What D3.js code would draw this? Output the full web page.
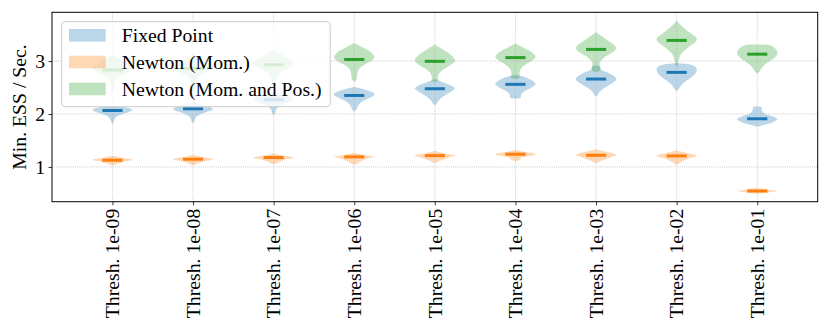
<!DOCTYPE html>
<html><head><meta charset="utf-8">
<script src="https://cdn.jsdelivr.net/npm/d3@7"></script>
<style>body{margin:0;background:#fff} svg{display:block}</style>
</head><body><svg id="chart" width="830" height="332"></svg>
<script>
// ---------- data ----------
const categories = ["Thresh. 1e-09","Thresh. 1e-08","Thresh. 1e-07","Thresh. 1e-06","Thresh. 1e-05",
                    "Thresh. 1e-04","Thresh. 1e-03","Thresh. 1e-02","Thresh. 1e-01"];
const seriesNames = ["Fixed Point","Newton (Mom.)","Newton (Mom. and Pos.)"];
const seriesColors = ["#1f77b4","#ff7f0e","#2ca02c"];
const yTicks = [1,2,3];
const yLabel = "Min. ESS / Sec.";

// median line per threshold
const fixedPointMedian   = [2.066, 2.098, 2.27, 2.35, 2.477, 2.56, 2.66, 2.786, 1.91];
const newtonMomMedian    = [1.127, 1.146, 1.177, 1.19, 1.214, 1.24, 1.22, 1.208, 0.545];
const newtonMomPosMedian = [2.83, 2.86, 2.93, 3.03, 2.995, 3.065, 3.22, 3.39, 3.13];

// violin outlines: [value, relative half-width]
const fixedPointShapes = [
  [[2.16,0],[2.13,0.55],[2.09,0.95],[2.07,1.0],[2.03,0.75],[1.98,0.35],[1.93,0.15],[1.87,0.08],[1.80,0]],
  [[2.23,0],[2.18,0.4],[2.12,0.9],[2.09,1.0],[2.04,0.7],[1.98,0.3],[1.92,0.12],[1.86,0.07],[1.83,0]],
  [[2.41,0],[2.37,0.5],[2.31,0.95],[2.28,1.0],[2.22,0.75],[2.15,0.3],[2.08,0.12],[2.02,0.08],[1.985,0]],
  [[2.51,0],[2.46,0.55],[2.40,0.95],[2.36,1.0],[2.30,0.75],[2.22,0.35],[2.15,0.18],[2.08,0.1],[2.05,0]],
  [[2.66,0],[2.60,0.4],[2.53,0.85],[2.48,1.0],[2.42,0.8],[2.34,0.45],[2.26,0.2],[2.20,0.1],[2.17,0]],
  [[2.74,0],[2.70,0.45],[2.63,0.85],[2.57,1.0],[2.50,0.8],[2.43,0.45],[2.38,0.3],[2.33,0.27],[2.30,0.25],[2.29,0]],
  [[2.91,0],[2.90,0.2],[2.84,0.25],[2.78,0.6],[2.70,0.95],[2.65,1.0],[2.58,0.8],[2.50,0.45],[2.42,0.18],[2.36,0.08],[2.33,0]],
  [[2.96,0],[2.94,0.6],[2.90,0.9],[2.84,1.0],[2.78,0.95],[2.70,0.75],[2.62,0.45],[2.55,0.25],[2.48,0.12],[2.43,0]],
  [[2.14,0],[2.13,0.2],[2.05,0.25],[2.00,0.4],[1.95,0.8],[1.90,1.0],[1.85,0.8],[1.80,0.4],[1.76,0]]
];
const newtonMomShapes = [
  [[1.21,0],[1.18,0.4],[1.15,0.9],[1.13,1.0],[1.10,0.6],[1.06,0.25],[1.025,0]],
  [[1.23,0],[1.19,0.4],[1.16,0.9],[1.14,1.0],[1.11,0.6],[1.07,0.25],[1.025,0]],
  [[1.26,0],[1.22,0.4],[1.19,0.9],[1.17,1.0],[1.14,0.6],[1.09,0.25],[1.05,0]],
  [[1.27,0],[1.23,0.45],[1.20,0.95],[1.19,1.0],[1.15,0.6],[1.10,0.3],[1.04,0]],
  [[1.30,0],[1.26,0.45],[1.23,0.9],[1.21,1.0],[1.18,0.7],[1.12,0.3],[1.07,0]],
  [[1.32,0],[1.28,0.5],[1.25,0.95],[1.23,1.0],[1.20,0.6],[1.16,0.25],[1.13,0.2],[1.11,0]],
  [[1.335,0],[1.29,0.45],[1.25,0.9],[1.22,1.0],[1.18,0.7],[1.12,0.3],[1.07,0]],
  [[1.31,0],[1.27,0.45],[1.23,0.9],[1.20,1.0],[1.16,0.6],[1.10,0.25],[1.04,0]],
  [[0.60,0],[0.57,0.6],[0.545,1.0],[0.52,0.6],[0.49,0]]
];
const newtonMomPosShapes = [
  [[3.12,0],[3.04,0.35],[2.95,0.75],[2.87,1.0],[2.80,0.85],[2.72,0.4],[2.64,0.15],[2.55,0.08],[2.45,0.06],[2.41,0]],
  [[3.13,0],[3.05,0.35],[2.96,0.75],[2.88,1.0],[2.82,0.85],[2.74,0.4],[2.65,0.15],[2.55,0.08],[2.44,0.06],[2.40,0]],
  [[3.22,0],[3.12,0.4],[3.02,0.85],[2.95,1.0],[2.88,0.8],[2.80,0.4],[2.70,0.15],[2.60,0.08],[2.52,0.06],[2.50,0]],
  [[3.34,0],[3.26,0.4],[3.16,0.85],[3.07,1.0],[3.00,0.85],[2.92,0.45],[2.84,0.22],[2.75,0.15],[2.66,0.12],[2.60,0]],
  [[3.31,0],[3.22,0.4],[3.10,0.85],[3.01,1.0],[2.93,0.8],[2.85,0.45],[2.77,0.22],[2.70,0.15],[2.63,0.15],[2.60,0]],
  [[3.33,0],[3.24,0.45],[3.14,0.9],[3.08,1.0],[3.00,0.8],[2.92,0.45],[2.84,0.25],[2.76,0.2],[2.68,0.2],[2.66,0]],
  [[3.55,0],[3.45,0.35],[3.33,0.8],[3.25,1.0],[3.17,0.85],[3.08,0.45],[2.98,0.2],[2.90,0.18],[2.82,0.2],[2.79,0]],
  [[3.765,0],[3.66,0.25],[3.55,0.6],[3.45,0.95],[3.40,1.0],[3.32,0.8],[3.22,0.45],[3.12,0.2],[3.00,0.1],[2.92,0.06],[2.90,0]],
  [[3.31,0],[3.30,0.6],[3.25,0.85],[3.17,1.0],[3.10,0.95],[3.02,0.7],[2.94,0.4],[2.86,0.2],[2.80,0.12],[2.775,0]]
];

const medians = [fixedPointMedian, newtonMomMedian, newtonMomPosMedian];
const shapes  = [fixedPointShapes, newtonMomShapes, newtonMomPosShapes];

// ---------- layout ----------
const FONT = "'Liberation Serif', 'DejaVu Serif', serif";
const plot = {left:52, right:817.7, top:12.3, bottom:201.7};
const svg = d3.select("#chart");

const x = d3.scaleLinear().domain([0.25, categories.length + 0.75]).range([plot.left, plot.right]);
const y = d3.scaleLinear().domain([0.343, 3.921]).range([plot.bottom, plot.top]);
const violinWidth = 0.5;                       // in category units
const halfW = (x(1 + violinWidth/2) - x(1));   // px

// fit font size so legend text width ~ reference
const probe = svg.append("text").attr("font-family", FONT).attr("font-size", 16).text(seriesNames[2]);
const fs = 16 * 200 / probe.node().getComputedTextLength();
probe.remove();

// ---------- violin bodies ----------
const area = d3.area()
  .y(d => y(d[0]))
  .curve(d3.curveCatmullRom.alpha(0.5));

const bodies = svg.append("g");
shapes.forEach((ser, si) => {
  ser.forEach((prof, ci) => {
    const cx = x(ci + 1);
    bodies.append("path")
      .attr("d", area.x0(d => cx - d[1]*halfW).x1(d => cx + d[1]*halfW)(prof))
      .attr("fill", seriesColors[si]).attr("fill-opacity", 0.3);
  });
});

// ---------- grid ----------
const grid = svg.append("g").attr("stroke", "#b0b0b0").attr("stroke-width", 0.8)
  .attr("stroke-dasharray", "0.8,1.3");
categories.forEach((c, i) => {
  grid.append("line").attr("x1", x(i+1)).attr("x2", x(i+1)).attr("y1", plot.top).attr("y2", plot.bottom);
});
yTicks.forEach(t => {
  grid.append("line").attr("x1", plot.left).attr("x2", plot.right).attr("y1", y(t)).attr("y2", y(t));
});

// ---------- median bars ----------
const bars = svg.append("g");
medians.forEach((ser, si) => {
  ser.forEach((v, ci) => {
    bars.append("line")
      .attr("x1", x(ci + 1 - violinWidth/4)).attr("x2", x(ci + 1 + violinWidth/4))
      .attr("y1", y(v)).attr("y2", y(v))
      .attr("stroke", seriesColors[si]).attr("stroke-width", 3);
  });
});

// ---------- axes ----------
const yAxis = d3.axisLeft(y).tickValues(yTicks).tickFormat(d3.format("d")).tickSize(3.5).tickPadding(3.5);
const gy = svg.append("g").attr("transform", `translate(${plot.left},0)`).call(yAxis);
gy.select(".domain").remove();
gy.selectAll("line").attr("stroke", "#000").attr("stroke-width", 0.8);
gy.selectAll("text").attr("font-family", FONT).attr("font-size", fs).attr("fill", "#000");

const xAxis = d3.axisBottom(x).tickValues(d3.range(1, categories.length + 1))
  .tickFormat(d => categories[d-1]).tickSize(3.5).tickPadding(3.5);
const gx = svg.append("g").attr("transform", `translate(0,${plot.bottom})`).call(xAxis);
gx.select(".domain").remove();
gx.selectAll("line").attr("stroke", "#000").attr("stroke-width", 0.8);
gx.selectAll("text")
  .attr("font-family", FONT).attr("font-size", fs).attr("fill", "#000")
  .attr("text-anchor", "end")
  .attr("transform", "rotate(-90)")
  .attr("x", -7).attr("y", 0).attr("dy", "0.32em");

svg.append("rect").attr("x", plot.left).attr("y", plot.top)
  .attr("width", plot.right - plot.left).attr("height", plot.bottom - plot.top)
  .attr("fill", "none").attr("stroke", "#000").attr("stroke-width", 1);

svg.append("text")
  .attr("transform", `translate(20,${(plot.top + plot.bottom)/2}) rotate(-90)`)
  .attr("text-anchor", "middle").attr("dy", "0.32em")
  .attr("font-family", FONT).attr("font-size", fs).text(yLabel);

// ---------- legend ----------
const lg = svg.append("g");
lg.append("rect").attr("x", 61.7).attr("y", 21.7).attr("width", 268.5).attr("height", 85)
  .attr("rx", 3).attr("fill", "#fff").attr("fill-opacity", 0.8)
  .attr("stroke", "#cccccc").attr("stroke-width", 1);
const rowY = [35.3, 62, 89];
seriesNames.forEach((n, i) => {
  lg.append("rect").attr("x", 69).attr("y", rowY[i] - 6.3).attr("width", 36.7).attr("height", 12.6)
    .attr("fill", seriesColors[i]).attr("fill-opacity", 0.3);
  lg.append("text").attr("x", 121.7).attr("y", rowY[i]).attr("dy", "0.35em")
    .attr("font-family", FONT).attr("font-size", fs).attr("fill", "#000").text(n);
});
</script></body></html>
